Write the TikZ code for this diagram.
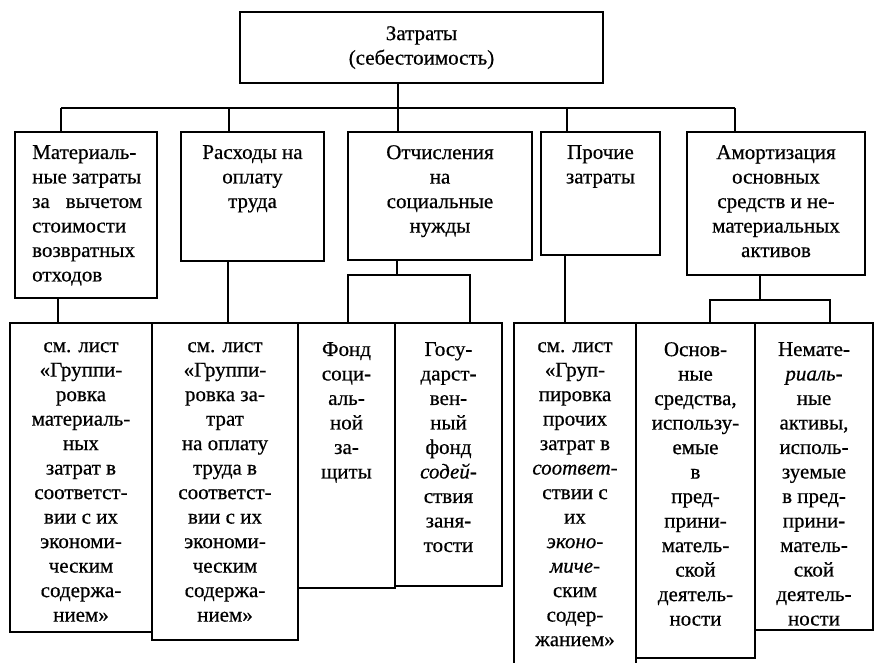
\documentclass[tikz,border=0pt]{standalone}
\usepackage{fontspec}
\setmainfont{Liberation Serif}[FakeBold=0.5]
\newcommand\fsz{\fontsize{21}{24.5}\selectfont}
\newcommand\bx[5]{\node[frame,anchor=north west,minimum width=#4pt,minimum height=#5pt] (#1) at (#2,#3) {};}
\tikzset{
  frame/.style={draw, line width=1.6pt, inner sep=0pt, outer sep=0pt},
  conn/.style={line width=1.6pt},
  lbl/.style={anchor=north, align=center, inner sep=0pt, font=\fsz, execute at begin node=\strut},
}
\begin{document}
\begin{tikzpicture}[x=1pt,y=-1pt]
\useasboundingbox (0,0) rectangle (876,663);
\clip (0,0) rectangle (876,663);
\fill[white] (0,0) rectangle (876,663);
% level 0
\bx{top}{240}{12}{363}{71}
% level 1
\bx{b1}{15}{132}{142}{166}
\bx{b2}{181}{132}{143}{129}
\bx{b3}{348}{132}{184}{128}
\bx{b4}{541}{132}{119}{123}
\bx{b5}{687}{132}{178}{143}
% level 2
\bx{s1}{10}{323}{142}{309}
\bx{s2}{152}{323}{146}{317}
\bx{s3}{298}{323}{97}{265}
\bx{s4}{395}{323}{107}{263}
\bx{s5}{514}{323}{122}{350}
\bx{s6}{636}{323}{119}{335}
\bx{s7}{755}{323}{118}{307}
% labels
\node[lbl] (tl) at ([yshift=-14pt]top.north) {Затраты\\(себестоимость)};
\node[lbl,anchor=north west,align=left] (l1) at ([xshift=17pt,yshift=-13pt]b1.north west)
  {Материаль-\\ные затраты\\за\hspace{16pt}вычетом\\стоимости\\возвратных\\отходов};
\node[lbl] (l2) at ([yshift=-13pt]b2.north) {Расходы на\\оплату\\труда};
\node[lbl] (l3) at ([yshift=-13pt]b3.north) {Отчисления\\на\\социальные\\нужды};
\node[lbl] (l4) at ([yshift=-13pt]b4.north) {Прочие\\затраты};
\node[lbl] (l5) at ([yshift=-13pt]b5.north) {Амортизация\\основных\\средств и не-\\материальных\\активов};
\node[lbl] (m1) at ([yshift=-19pt]s1.north) {см. лист\\«Группи-\\ровка\\материаль-\\ных\\затрат в\\соответст-\\вии с их\\экономи-\\ческим\\содержа-\\нием»};
\node[lbl] (m2) at ([yshift=-19pt]s2.north) {см. лист\\«Группи-\\ровка за-\\трат\\на оплату\\труда в\\соответст-\\вии с их\\экономи-\\ческим\\содержа-\\нием»};
\node[lbl] (m3) at ([yshift=-19pt]s3.north) {Фонд\\соци-\\аль-\\ной\\за-\\щиты};
\node[lbl] (m4) at ([yshift=-19pt]s4.north) {Госу-\\дарст-\\вен-\\ный\\фонд\\\textit{содей-}\\ствия\\заня-\\тости};
\node[lbl] (m5) at ([yshift=-19pt]s5.north) {см. лист\\«Груп-\\пировка\\прочих\\затрат в\\\textit{соответ-}\\ствии с\\их\\\textit{эконо-}\\\textit{миче-}\\ским\\содер-\\жанием»};
\node[lbl] (m6) at ([yshift=-19pt]s6.north) {Основ-\\ные\\средства,\\использу-\\емые\\в\\пред-\\прини-\\матель-\\ской\\деятель-\\ности};
\node[lbl] (m7) at ([yshift=-19pt]s7.north) {Немате-\\\textit{риаль-}\\ные\\активы,\\исполь-\\зуемые\\в пред-\\прини-\\матель-\\ской\\деятель-\\ности};
% bus from top
\coordinate (j1) at (61,108);
\coordinate (j2) at (229,108);
\coordinate (j3) at (398,108);
\coordinate (j4) at (567,108);
\coordinate (j5) at (735,108);
\draw[conn] (j1) -- (j5);
\draw[conn] (top.south -| j3) -- (j3);
\draw[conn] (j1) -- (j1 |- b1.north);
\draw[conn] (j2) -- (j2 |- b2.north);
\draw[conn] (j3) -- (j3 |- b3.north);
\draw[conn] (j4) -- (j4 |- b4.north);
\draw[conn] (j5) -- (j5 |- b5.north);
% level 1 to level 2
\coordinate (k1) at (58,310);
\coordinate (k2) at (228,300);
\coordinate (k4) at (565,300);
\draw[conn] (b1.south -| k1) -- (s1.north -| k1);
\draw[conn] (b2.south -| k2) -- (s2.north -| k2);
\draw[conn] (b4.south -| k4) -- (s5.north -| k4);
\coordinate (p0) at (397,275);
\coordinate (p1) at (348,275);
\coordinate (p2) at (470,275);
\draw[conn] (b3.south -| p0) -- (p0);
\draw[conn] (s3.north -| p1) -- (p1) -- (p2) -- (s4.north -| p2);
\coordinate (q0) at (760,300);
\coordinate (q1) at (710,300);
\coordinate (q2) at (830,300);
\draw[conn] (b5.south -| q0) -- (q0);
\draw[conn] (s6.north -| q1) -- (q1) -- (q2) -- (s7.north -| q2);
\end{tikzpicture}
\end{document}
